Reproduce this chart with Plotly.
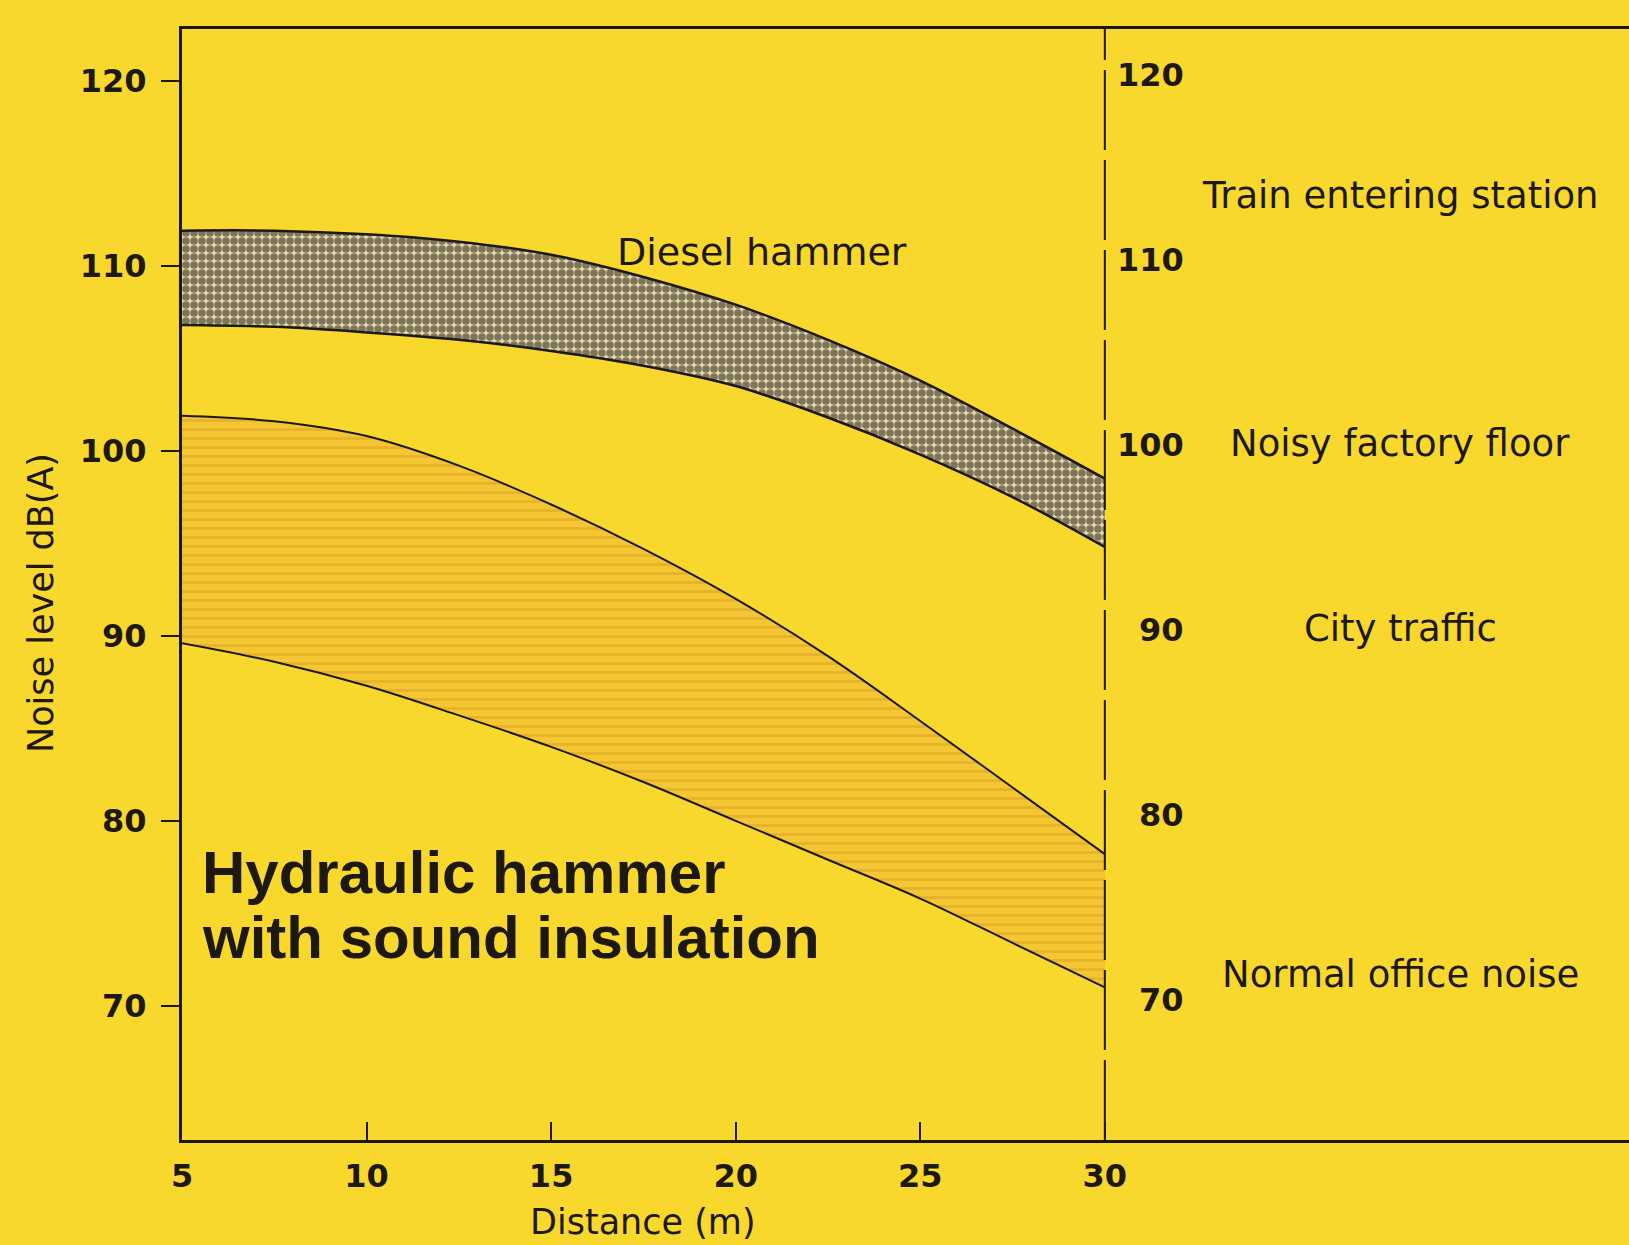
import plotly.graph_objects as go

# ---------------- data ----------------
distance = [5, 7.5, 10, 12.5, 15, 17.5, 20, 22.5, 25, 27.5, 30]
diesel_upper = [111.9, 111.9, 111.7, 111.3, 110.6, 109.4, 107.9, 106.0, 103.8, 101.2, 98.5]
diesel_lower = [106.8, 106.7, 106.4, 106.0, 105.4, 104.6, 103.5, 101.8, 99.8, 97.5, 94.8]
hydraulic_upper = [101.9, 101.6, 100.8, 99.2, 97.1, 94.7, 92.0, 88.9, 85.4, 81.8, 78.2]
hydraulic_lower = [89.6, 88.6, 87.3, 85.7, 84.0, 82.1, 80.0, 77.9, 75.8, 73.4, 71.0]

x_ticks = [5, 10, 15, 20, 25, 30]
y_ticks = [70, 80, 90, 100, 110, 120]
right_scale = [120, 110, 100, 90, 80, 70]
ref_labels = ["Train entering station", "Noisy factory floor", "City traffic", "Normal office noise"]
ref_levels = [113.8, 100.4, 90.4, 71.7]

BG = "#F9D82E"
INK = "#1d1810"
FONT = "DejaVu Sans"

fig = go.Figure()

# Diesel hammer band
fig.add_trace(go.Scatter(x=distance, y=diesel_lower, mode="lines",
                         line=dict(color=INK, width=2.5, shape="spline"),
                         showlegend=False, hoverinfo="skip"))
fig.add_trace(go.Scatter(x=distance, y=diesel_upper, mode="lines", fill="tonexty",
                         line=dict(color=INK, width=2.5, shape="spline"),
                         fillcolor="#CFC292",
                         fillpattern=dict(shape=".", fgcolor="#1c140b", bgcolor="#E2D7A8",
                                          size=8, solidity=0.7),
                         showlegend=False, hoverinfo="skip"))

# Hydraulic hammer band
fig.add_trace(go.Scatter(x=distance, y=hydraulic_lower, mode="lines",
                         line=dict(color=INK, width=2, shape="spline"),
                         showlegend=False, hoverinfo="skip"))
fig.add_trace(go.Scatter(x=distance, y=hydraulic_upper, mode="lines", fill="tonexty",
                         line=dict(color=INK, width=2, shape="spline"),
                         fillcolor="#F3C32F",
                         fillpattern=dict(shape="-", fgcolor="#D69E22", bgcolor="#F4C632",
                                          size=9, solidity=0.3),
                         showlegend=False, hoverinfo="skip"))

# dashed separator at 30 m
fig.add_shape(type="line", xref="x", yref="paper", x0=30, x1=30, y0=0, y1=1,
              line=dict(color=INK, width=2, dash="80px,10px"))

annotations = []
# right-hand dB scale
for v in right_scale:
    annotations.append(dict(x=32.2, y=v + 0.3, xref="x", yref="y", text=str(v),
                            showarrow=False, xanchor="right", yanchor="middle",
                            font=dict(family=FONT, size=32, color=INK, weight="bold")))
# reference noise sources
for t, lv in zip(ref_labels, ref_levels):
    annotations.append(dict(x=38.0, y=lv, xref="x", yref="y", text=t, showarrow=False,
                            xanchor="center", yanchor="middle",
                            font=dict(family=FONT, size=37, color=INK)))
# band labels
annotations.append(dict(x=20.7, y=110.75, xref="x", yref="y", text="Diesel hammer",
                        showarrow=False, xanchor="center", yanchor="middle",
                        font=dict(family=FONT, size=38, color=INK)))
annotations.append(dict(x=5.5, y=77.2, xref="x", yref="y", text="Hydraulic hammer",
                        showarrow=False, xanchor="left", yanchor="middle",
                        font=dict(family="Liberation Sans, Arial", size=60, color=INK, weight="bold")))
annotations.append(dict(x=5.5, y=73.7, xref="x", yref="y", text="with sound insulation",
                        showarrow=False, xanchor="left", yanchor="middle",
                        font=dict(family="Liberation Sans, Arial", size=60, color=INK, weight="bold")))
# axis titles
annotations.append(dict(x=-0.097, y=0.483, xref="paper", yref="paper", text="Noise level dB(A)",
                        textangle=-90, showarrow=False, xanchor="center", yanchor="middle",
                        font=dict(family=FONT, size=35, color=INK)))
annotations.append(dict(x=17.5, y=-0.074, xref="x", yref="paper", text="Distance (m)",
                        showarrow=False, xanchor="center", yanchor="middle",
                        font=dict(family=FONT, size=35, color=INK)))

fig.update_layout(
    width=1629, height=1245,
    margin=dict(l=182, r=0, t=29, b=105),
    paper_bgcolor=BG, plot_bgcolor=BG,
    showlegend=False,
    annotations=annotations,
    xaxis=dict(range=[5, 44.2], tickvals=x_ticks, ticktext=[str(v) for v in x_ticks],
               showgrid=False, zeroline=False, showline=True, linecolor=INK, linewidth=3,
               mirror=True, ticks="inside", ticklen=18, tickwidth=2, tickcolor=INK,
               ticklabelstandoff=6,
               tickfont=dict(family=FONT, size=32, color=INK, weight="bold")),
    yaxis=dict(range=[62.75, 122.8], tickvals=y_ticks, ticktext=[str(v) for v in y_ticks],
               showgrid=False, zeroline=False, showline=True, linecolor=INK, linewidth=3,
               ticks="outside", ticklen=18, tickwidth=2, tickcolor=INK,
               ticklabelstandoff=8,
               tickfont=dict(family=FONT, size=32, color=INK, weight="bold")),
)

fig.write_html(
    "out.html",
    config={"displayModeBar": False},
    post_script="document.body.style.margin='0';document.body.style.overflow='hidden';"
                "document.body.style.background='#F9D82E';",
)
